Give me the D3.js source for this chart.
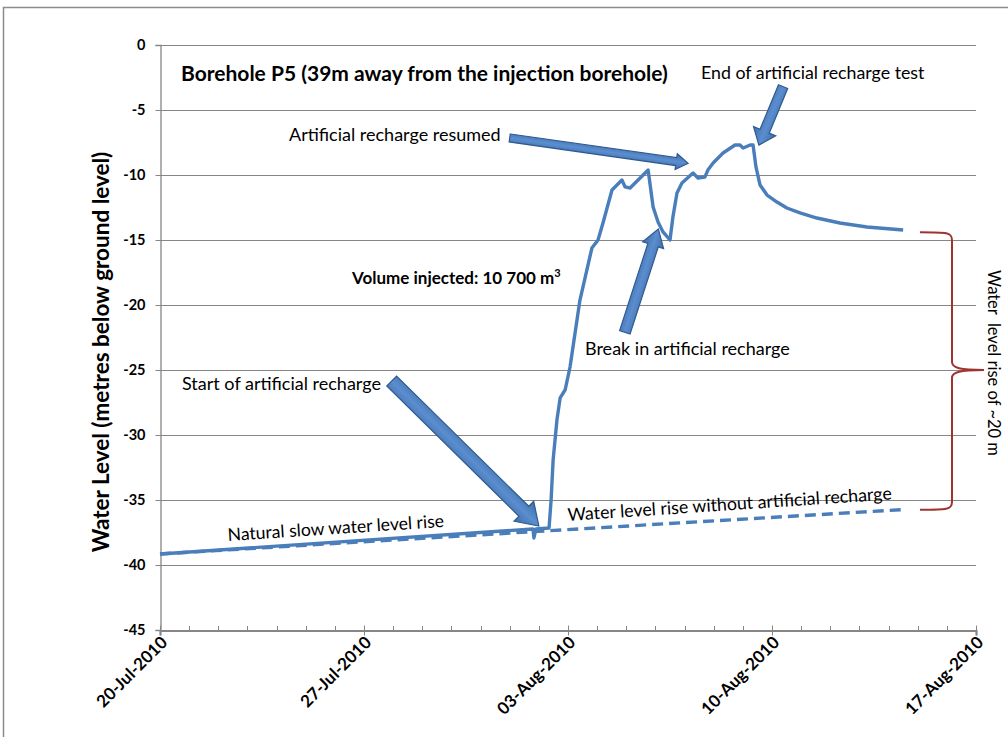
<!DOCTYPE html>
<html>
<head>
<meta charset="utf-8">
<script src="https://cdnjs.cloudflare.com/ajax/libs/d3/7.8.5/d3.min.js"></script>
<style>
  html, body { margin: 0; padding: 0; background: #fff; }
  svg { display: block; font-family: Lato, "Open Sans", sans-serif; }
</style>
</head>
<body>
<svg id="chart" width="1008" height="737"></svg>
<script>
// ---------------- DATA ----------------
const startDate = "2010-07-20";
const endDate = "2010-08-17";
const xTickDates = ["2010-07-20", "2010-07-27", "2010-08-03", "2010-08-10", "2010-08-17"];
const xTickLabels = ["20-Jul-2010", "27-Jul-2010", "03-Aug-2010", "10-Aug-2010", "17-Aug-2010"];
const yTicks = [0, -5, -10, -15, -20, -25, -30, -35, -40, -45];

// measured water level (days after 20-Jul-2010, metres)
const elapsedDays = [0, 12.80, 12.83, 12.90, 13.35, 13.42, 13.49, 13.62, 13.73, 13.90, 14.07, 14.41, 14.82, 15.03, 15.20, 15.51, 15.68, 15.85, 15.96, 16.13, 16.75, 16.92, 17.09, 17.26, 17.50, 17.60, 17.74, 17.91, 18.29, 18.46, 18.70, 18.80, 18.98, 19.32, 19.73, 19.90, 20.01, 20.25, 20.35, 20.45, 20.59, 20.83, 21.17, 21.51, 21.96, 22.54, 23.33, 24.26, 25.50];
const waterLevel = [-39.15, -37.23, -37.92, -37.23, -37.15, -35.0, -31.92, -28.85, -27.15, -26.54, -24.77, -19.62, -15.62, -15.0, -13.69, -11.15, -10.77, -10.38, -10.92, -11.0, -9.62, -12.46, -13.62, -14.38, -15.0, -13.23, -11.38, -10.62, -9.85, -10.23, -10.15, -9.62, -9.08, -8.31, -7.69, -7.69, -7.92, -7.69, -7.69, -9.38, -10.77, -11.54, -12.08, -12.54, -12.92, -13.31, -13.69, -14.0, -14.23];

// trend without artificial recharge
const trendDays = [0, 25.55];
const trendLevel = [-39.15, -35.73];

// ---------------- SETUP ----------------
const svg = d3.select("#chart");
const parse = d3.utcParse("%Y-%m-%d");
const t0 = parse(startDate);
const dayMs = 86400000;
const toDate = d => new Date(t0.getTime() + d * dayMs);

const x = d3.scaleUtc().domain([parse(startDate), parse(endDate)]).range([160, 976]);
const y = d3.scaleLinear().domain([-45, 0]).range([630, 45]);

const blue = "#4A7EBB";
const grid = "#868686";

// outer frame
svg.append("rect").attr("x", 3.5).attr("y", 7.5).attr("width", 1010).attr("height", 740)
  .attr("fill", "none").attr("stroke", "#8c8c8c").attr("stroke-width", 1.5);

// gridlines
svg.append("g").selectAll("line").data(yTicks.filter(v => v !== -45)).join("line")
  .attr("x1", x.range()[0]).attr("x2", x.range()[1])
  .attr("y1", d => Math.round(y(d)) + 0.5).attr("y2", d => Math.round(y(d)) + 0.5)
  .attr("stroke", grid).attr("stroke-width", 1);

// y axis
const yAxis = d3.axisLeft(y).tickValues(yTicks).tickSize(5).tickFormat(d3.format("d"));
const gy = svg.append("g").attr("transform", "translate(160.5,0)").call(yAxis);
gy.select(".domain").attr("stroke", grid).attr("stroke-width", 1.3);
gy.selectAll(".tick line").attr("stroke", grid);
gy.selectAll(".tick text").attr("x", -15).attr("font-family", "Lato, sans-serif")
  .attr("font-weight", "bold").attr("font-size", 14.5).attr("fill", "#000")
  .text(d => d === 0 ? "0" : "-" + Math.abs(d));

// x axis (minor day ticks)
const minorDays = d3.utcDay.range(parse(startDate), d3.utcDay.offset(parse(endDate), 1));
svg.append("g").selectAll("line").data(minorDays).join("line")
  .attr("x1", d => Math.round(x(d)) + 0.5).attr("x2", d => Math.round(x(d)) + 0.5)
  .attr("y1", 626).attr("y2", 630)
  .attr("stroke", grid);
const xAxis = d3.axisBottom(x).tickValues(xTickDates.map(parse)).tickSize(5)
  .tickFormat((d, i) => xTickLabels[i]);
const gx = svg.append("g").attr("transform", "translate(0,630.5)").call(xAxis);
gx.select(".domain").attr("stroke", grid).attr("stroke-width", 2.2);
gx.selectAll(".tick line").attr("stroke", grid).attr("y1", -5).attr("y2", 5);
gx.selectAll(".tick text")
  .attr("font-family", "Lato, sans-serif").attr("font-weight", "bold").attr("font-size", 17)
  .attr("fill", "#000").attr("text-anchor", "end").attr("dy", null).attr("y", 0)
  .attr("transform", "translate(8,13) rotate(-45)");

// y axis title
svg.append("text").attr("transform", "translate(109,352) rotate(-90)")
  .attr("text-anchor", "middle").attr("font-weight", "bold").attr("font-size", 22.5)
  .text("Water Level (metres below ground level)");

// ---------------- SERIES ----------------
const trend = trendDays.map((d, i) => [toDate(d), trendLevel[i]]);
const measured = elapsedDays.map((d, i) => [toDate(d), waterLevel[i]]);
const line = d3.line().x(d => x(d[0])).y(d => y(d[1]));

svg.append("path").datum(measured).attr("d", line)
  .attr("fill", "none").attr("stroke", blue).attr("stroke-width", 3.4)
  .attr("stroke-linejoin", "round");
svg.append("path").datum(trend).attr("d", line)
  .attr("fill", "none").attr("stroke", blue).attr("stroke-width", 3.4)
  .attr("stroke-dasharray", "11,6");

// ---------------- ANNOTATIONS ----------------
const defs = svg.append("defs");
const grad = defs.append("linearGradient").attr("id", "arrowGrad")
  .attr("x1", 0).attr("y1", 0).attr("x2", 0).attr("y2", 1);
grad.append("stop").attr("offset", "0%").attr("stop-color", "#3F6EA8");
grad.append("stop").attr("offset", "50%").attr("stop-color", "#5B8ED0");
grad.append("stop").attr("offset", "100%").attr("stop-color", "#3F6EA8");

// block arrows [fromDay, fromLevel, toDay, toLevel, shaftW, headW, headL]
const arrows = [
  [12.0, -7.15, 18.12, -9.1, 8, 16, 12],
  [21.38, -3.2, 20.55, -7.7, 10, 24, 15],
  [15.95, -22.1, 17.1, -14.15, 11, 22, 17],
  [7.95, -25.85, 13.0, -37.0, 14, 28, 21]
];
arrows.forEach(a => {
  const x1 = x(toDate(a[0])), y1 = y(a[1]), x2 = x(toDate(a[2])), y2 = y(a[3]);
  const len = Math.hypot(x2 - x1, y2 - y1);
  const ang = Math.atan2(y2 - y1, x2 - x1) * 180 / Math.PI;
  const sw = a[4] / 2, hw = a[5] / 2, hl = a[6];
  const pts = [[0, -sw], [len - hl, -sw], [len - hl, -hw], [len, 0], [len - hl, hw], [len - hl, sw], [0, sw]];
  svg.append("polygon")
    .attr("points", pts.map(p => p.join(",")).join(" "))
    .attr("transform", `translate(${x1},${y1}) rotate(${ang})`)
    .attr("fill", "url(#arrowGrad)").attr("stroke", "#2F5A8E").attr("stroke-width", 1.2)
    .attr("stroke-linejoin", "miter");
});

// texts
const t = (xx, yy, txt, size, weight, rot) => {
  const el = svg.append("text").attr("x", xx).attr("y", yy)
    .attr("font-size", size).attr("font-weight", weight || "normal").attr("fill", "#000");
  if (rot) el.attr("transform", `rotate(${rot},${xx},${yy})`);
  el.text(txt);
  return el;
};
t(181, 81, "Borehole P5 (39m away from the injection borehole)", 21, "bold");
t(701, 79, "End of artificial recharge test", 17.8);
t(289, 141, "Artificial recharge resumed", 18);
t(585, 355, "Break in artificial recharge", 18);
t(182, 390, "Start of artificial recharge", 18);
t(228, 541, "Natural slow water level rise", 17.6, "normal", -3.7);
t(568, 521, "Water level rise without artificial recharge", 17.8, "normal", -3.8);
const vol = t(352, 284, "Volume injected: 10 700 m", 17, "bold");
vol.append("tspan").attr("dy", -7).attr("font-size", 11).text("3");

// brace
const braceTop = y(-14.4), braceBot = y(-35.75), braceMid = y(-25);
const bx = 952, bl = 920, btip = 984;
const brace = `M${bl},${braceTop} C${bx - 5},${braceTop} ${bx},${braceTop} ${bx},${braceTop + 8}
  L${bx},${braceMid - 8} C${bx},${braceMid - 2} ${bx + 8},${braceMid} ${btip},${braceMid}
  C${bx + 8},${braceMid} ${bx},${braceMid + 2} ${bx},${braceMid + 8}
  L${bx},${braceBot - 8} C${bx},${braceBot} ${bx - 5},${braceBot} ${bl},${braceBot}`;
svg.append("path").attr("d", brace).attr("fill", "none").attr("stroke", "#9E3330").attr("stroke-width", 2);

svg.append("text").attr("transform", "translate(988,270) rotate(90)")
  .attr("font-size", 16.5).attr("fill", "#000").attr("xml:space", "preserve")
  .style("white-space", "pre").text("Water  level rise of ~20 m");
</script>
</body>
</html>
